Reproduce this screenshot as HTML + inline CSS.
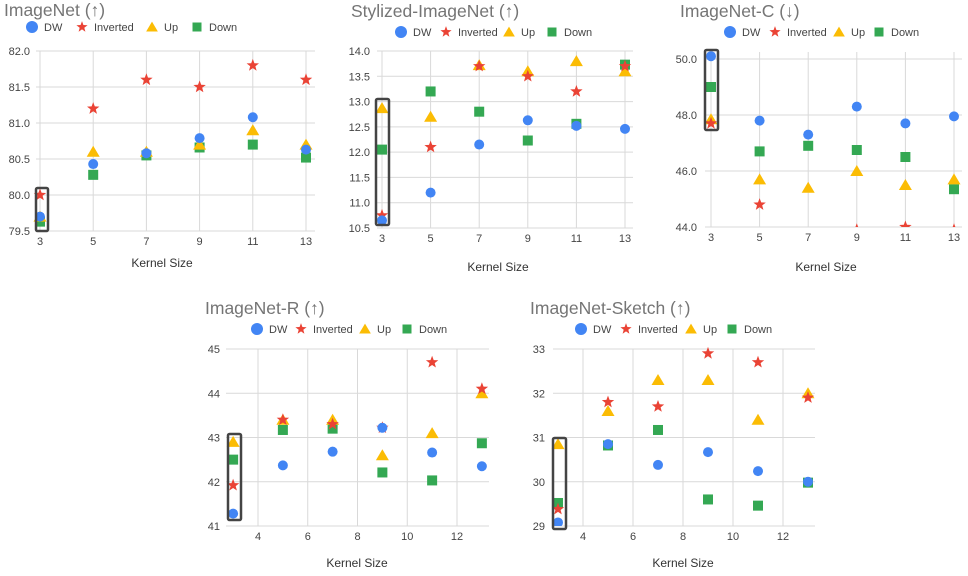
<!DOCTYPE html>
<html><head><meta charset="utf-8"><style>
body{margin:0;background:#fff;width:968px;height:571px;overflow:hidden;font-family:"Liberation Sans",Arial,sans-serif}
svg text{font-family:"Liberation Sans",Arial,sans-serif}
</style></head><body>
<svg id="s" width="968" height="571" viewBox="0 0 968 571" xmlns="http://www.w3.org/2000/svg"></svg>
<script>
const kernels=[3,5,7,9,11,13];
const seriesNames=["DW","Inverted","Up","Down"];
const inDW=[79.7,80.43,80.58,80.79,81.08,80.63];
const inInv=[80.0,81.2,81.6,81.5,81.8,81.6];
const inUp=[79.7,80.6,80.6,80.7,80.9,80.7];
const inDown=[79.63,80.28,80.55,80.66,80.7,80.52];
const inTicks=[79.5,80.0,80.5,81.0,81.5,82.0];
const stDW=[10.65,11.2,12.15,12.63,12.52,12.46];
const stInv=[10.75,12.1,13.7,13.5,13.2,13.7];
const stUp=[12.87,12.7,13.72,13.6,13.8,13.6];
const stDown=[12.05,13.2,12.8,12.23,12.56,13.73];
const stTicks=[10.5,11.0,11.5,12.0,12.5,13.0,13.5,14.0];
const cDW=[50.1,47.8,47.3,48.3,47.7,47.95];
const cInv=[47.7,44.8,43.5,43.9,44.0,43.9];
const cUp=[47.85,45.7,45.4,46.0,45.5,45.7];
const cDown=[49.0,46.7,46.9,46.75,46.5,45.35];
const cTicks=[44.0,46.0,48.0,50.0];
const rDW=[41.28,42.37,42.68,43.22,42.66,42.35];
const rInv=[41.92,43.4,43.3,43.22,44.7,44.1];
const rUp=[42.9,43.4,43.4,42.6,43.1,44.0];
const rDown=[42.5,43.17,43.2,42.21,42.03,42.87];
const rTicks=[41,42,43,44,45];
const skDW=[29.08,30.85,30.38,30.67,30.24,30.0];
const skInv=[29.38,31.8,31.7,32.9,32.7,31.9];
const skUp=[30.85,31.6,32.3,32.3,31.4,32.0];
const skDown=[29.52,30.82,31.17,29.6,29.46,29.98];
const skTicks=[29,30,31,32,33];
const evenXTicks=[4,6,8,10,12];

const NS="http://www.w3.org/2000/svg";
const svg=document.getElementById('s');
function mk(tag,attrs,parent){const e=document.createElementNS(NS,tag);for(const k in attrs)e.setAttribute(k,attrs[k]);(parent||svg).appendChild(e);return e;}
const colors=["#4285f4","#ea4335","#fbbc04","#34a853"];
function marker(g,type,x,y,s){
  s=s||1;
  if(type===0) return mk('circle',{cx:x,cy:y,r:5*s,fill:colors[0]},g);
  if(type===3) return mk('rect',{x:x-5*s,y:y-5*s,width:10*s,height:10*s,fill:colors[3]},g);
  if(type===2) return mk('polygon',{points:`${x},${y-6*s} ${x+6.5*s},${y+5*s} ${x-6.5*s},${y+5*s}`,fill:colors[2]},g);
  let p=[];for(let i=0;i<10;i++){const r=i%2?2.7*s:6.5*s;const a=-Math.PI/2+i*Math.PI/5;p.push((x+r*Math.cos(a)).toFixed(1)+','+(y+r*Math.sin(a)).toFixed(1));}
  return mk('polygon',{points:p.join(' '),fill:colors[1]},g);
}
function chart(c){
  const g=mk('g',{});
  
  
  const X=v=>c.px0+(v-c.vx0)*(c.px1-c.px0)/(c.vx1-c.vx0);
  const Y=v=>c.py0+(v-c.vy0)*(c.py1-c.py0)/(c.vy1-c.vy0);
  const clipId='clip-'+c.name;
  const cp=mk('clipPath',{id:clipId},g);mk('rect',{x:c.left-8,y:c.top-8,width:c.right-c.left+16,height:c.bottom-c.top+8},cp);
  const t=mk('text',{x:c.tx,y:c.ty,'font-size':17.5,fill:'#757575'},g);t.textContent=c.title;
  
  c.legend.forEach((lx,i)=>{
    const lg=mk('g',{},g);
    
    
    marker(lg,i,lx,c.ly,i===0?1.2:0.9);
    const tt=mk('text',{x:lx+12,y:c.ly+4,'font-size':11,fill:'#444'},lg);tt.textContent=seriesNames[i];
  });
  c.xgrid.forEach(v=>{mk('line',{x1:X(v),x2:X(v),y1:c.top,y2:c.bottom,stroke:'#d9d9d9','stroke-width':1},g);
    const tx=mk('text',{x:X(v),y:c.bottom+14,'font-size':11,fill:'#444','text-anchor':'middle'},g);tx.textContent=v;});
  c.yticks.forEach(v=>{mk('line',{x1:c.left,x2:c.right,y1:Y(v),y2:Y(v),stroke:'#d9d9d9','stroke-width':1},g);
    const tx=mk('text',{x:c.ylx,y:Y(v)+4,'font-size':11,fill:'#444','text-anchor':'end'},g);tx.textContent=c.dec?v.toFixed(1):v;});
  const xt=mk('text',{x:c.xtx,y:c.xty,'font-size':12,fill:'#333','text-anchor':'middle'},g);xt.textContent='Kernel Size';
  
  const pg=mk('g',{'clip-path':`url(#${clipId})`},g);
  [3,2,1,0].forEach(si=>{c.data[si].forEach((v,i)=>{
    const m=marker(pg,si,X(kernels[i]),Y(v),1);
    
    
  });});
  const b=mk('rect',{x:c.box[0],y:c.box[1],width:c.box[2]-c.box[0],height:c.box[3]-c.box[1],fill:'none',stroke:'#444','stroke-width':2.5,rx:1.5},g);
  
}
chart({name:'imagenet-chart',title:'ImageNet (↑)',tx:4,ty:16,ly:27,legend:[32,82,152,197],
 px0:40,px1:306,vx0:3,vx1:13,py0:51,py1:231,vy0:82,vy1:79.5,left:36,right:315,top:51,bottom:231,
 xgrid:kernels,yticks:inTicks,dec:true,ylx:30,xtx:162,xty:267,data:[inDW,inInv,inUp,inDown],box:[36,188,48,231]});
chart({name:'stylized-imagenet-chart',title:'Stylized-ImageNet (↑)',tx:351,ty:17,ly:32,legend:[401,446,509,552],
 px0:382,px1:625,vx0:3,vx1:13,py0:51,py1:228,vy0:14,vy1:10.5,left:377,right:633,top:51,bottom:228,
 xgrid:kernels,yticks:stTicks,dec:true,ylx:370,xtx:498,xty:271,data:[stDW,stInv,stUp,stDown],box:[376,99,389,225]});
chart({name:'imagenet-c-chart',title:'ImageNet-C (↓)',tx:680,ty:17,ly:32,legend:[730,775,839,879],
 px0:711,px1:954,vx0:3,vx1:13,py0:59,py1:227,vy0:50,vy1:44,left:705,right:962,top:52,bottom:227,
 xgrid:kernels,yticks:cTicks,dec:true,ylx:697,xtx:826,xty:271,data:[cDW,cInv,cUp,cDown],box:[705,50,718,130]});
chart({name:'imagenet-r-chart',title:'ImageNet-R (↑)',tx:205,ty:314,ly:329,legend:[257,301,365,407],
 px0:258,px1:457,vx0:4,vx1:12,py0:349,py1:526,vy0:45,vy1:41,left:226,right:489,top:349,bottom:526,
 xgrid:evenXTicks,yticks:rTicks,dec:false,ylx:220,xtx:357,xty:567,data:[rDW,rInv,rUp,rDown],box:[228,434,241,520]});
chart({name:'imagenet-sketch-chart',title:'ImageNet-Sketch (↑)',tx:530,ty:314,ly:329,legend:[581,626,691,732],
 px0:583,px1:783,vx0:4,vx1:12,py0:349,py1:526,vy0:33,vy1:29,left:553,right:815,top:349,bottom:526,
 xgrid:evenXTicks,yticks:skTicks,dec:false,ylx:545,xtx:683,xty:567,data:[skDW,skInv,skUp,skDown],box:[553,438,566,529]});
</script>
</body></html>
